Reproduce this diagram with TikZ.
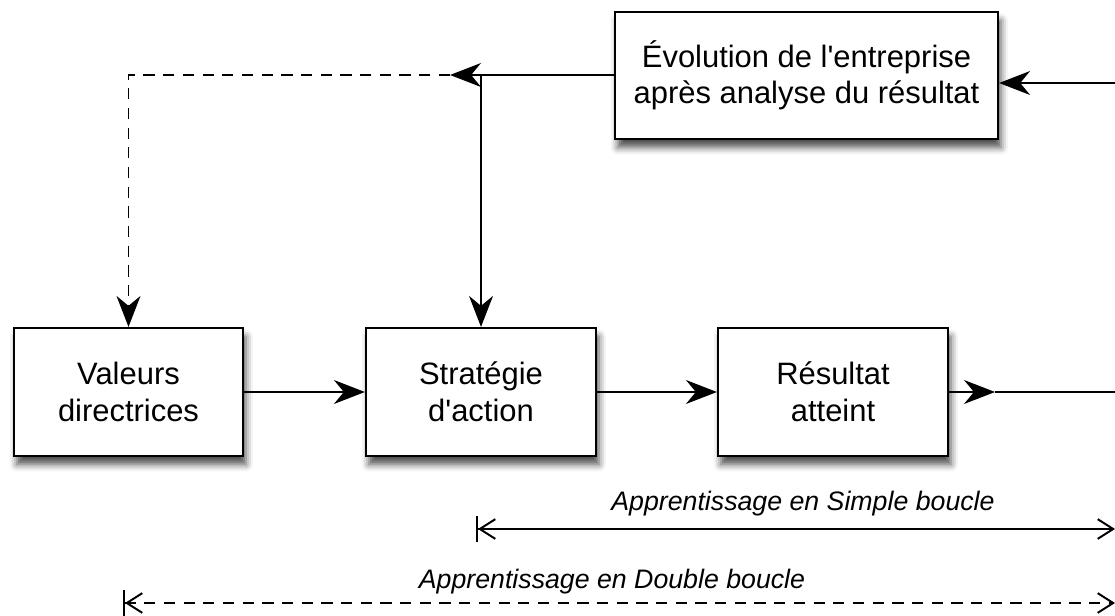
\documentclass[tikz,border=0pt]{standalone}
\usepackage{fontspec}
\setmainfont{Liberation Sans}
\usetikzlibrary{arrows.meta,shadows.blur}
\begin{document}
\begin{tikzpicture}[x=0.025cm,y=-0.025cm,
  boite/.style={draw,line width=1.5pt,fill=white,align=center,inner sep=0pt,
    font=\fontsize{22}{26}\selectfont,
    blur shadow={shadow xshift=2pt,shadow yshift=-6pt,shadow blur radius=5pt,shadow opacity=70}},
  fleche/.style={line width=1.4pt,-{Stealth[length=22pt,width=17pt,inset=7pt]}},
  pointille/.style={dash pattern=on 8pt off 6pt},
  portee/.style={line width=1.4pt,{Bar[width=19pt]Straight Barb[length=11pt,width=14pt]}-{Straight Barb[length=11pt,width=14pt]}},
  legende/.style={anchor=base,font=\fontsize{19}{24}\itshape\selectfont}]
\useasboundingbox (0,0) rectangle (1115,616);

% les quatre boites
\node[boite,minimum width=9.575cm,minimum height=3.175cm] (evolution) at (806.5,75.5) {Évolution de l\textquotesingle entreprise\\après analyse du résultat};
\node[boite,minimum width=5.725cm,minimum height=3.2cm] (valeurs) at (128.5,392) {Valeurs\\directrices};
\node[boite,minimum width=5.75cm,minimum height=3.2cm] (strategie) at (481,392) {Stratégie\\d\textquotesingle action};
\node[boite,minimum width=5.75cm,minimum height=3.2cm] (resultat) at (833,392) {Résultat\\atteint};

\coordinate (entree) at (1115,83);
\coordinate (sortie) at (1115,392);
\coordinate (pointe) at (995,392);
\coordinate (coude) at (481,75);
\coordinate (retour) at (450,75);
\coordinate (angle) at (128.5,75);

\draw[fleche] (valeurs) -- (strategie);
\draw[fleche] (strategie) -- (resultat);
\draw[fleche] (resultat.east) -- (pointe);
\draw[line width=1.4pt] (pointe) -- (sortie);
\draw[fleche] (entree) -- (evolution.east |- entree);
\draw[fleche] (evolution.west |- coude) -- (retour);
\draw[fleche,pointille] (retour) -- (angle) -- (valeurs.north);
\draw[fleche] (coude) -- (strategie.north);

% les deux boucles
\coordinate (simpleG) at (476,529);
\coordinate (simpleD) at (1115,529);
\coordinate (doubleG) at (123,603);
\coordinate (doubleD) at (1115,603);
\node[legende] (simple) at (803,510) {Apprentissage en Simple boucle};
\node[legende] (double) at (612,588) {Apprentissage en Double boucle};
\draw[portee] (simpleG) -- (simpleD);
\draw[portee,pointille] (doubleG) -- (doubleD);
\end{tikzpicture}
\end{document}
